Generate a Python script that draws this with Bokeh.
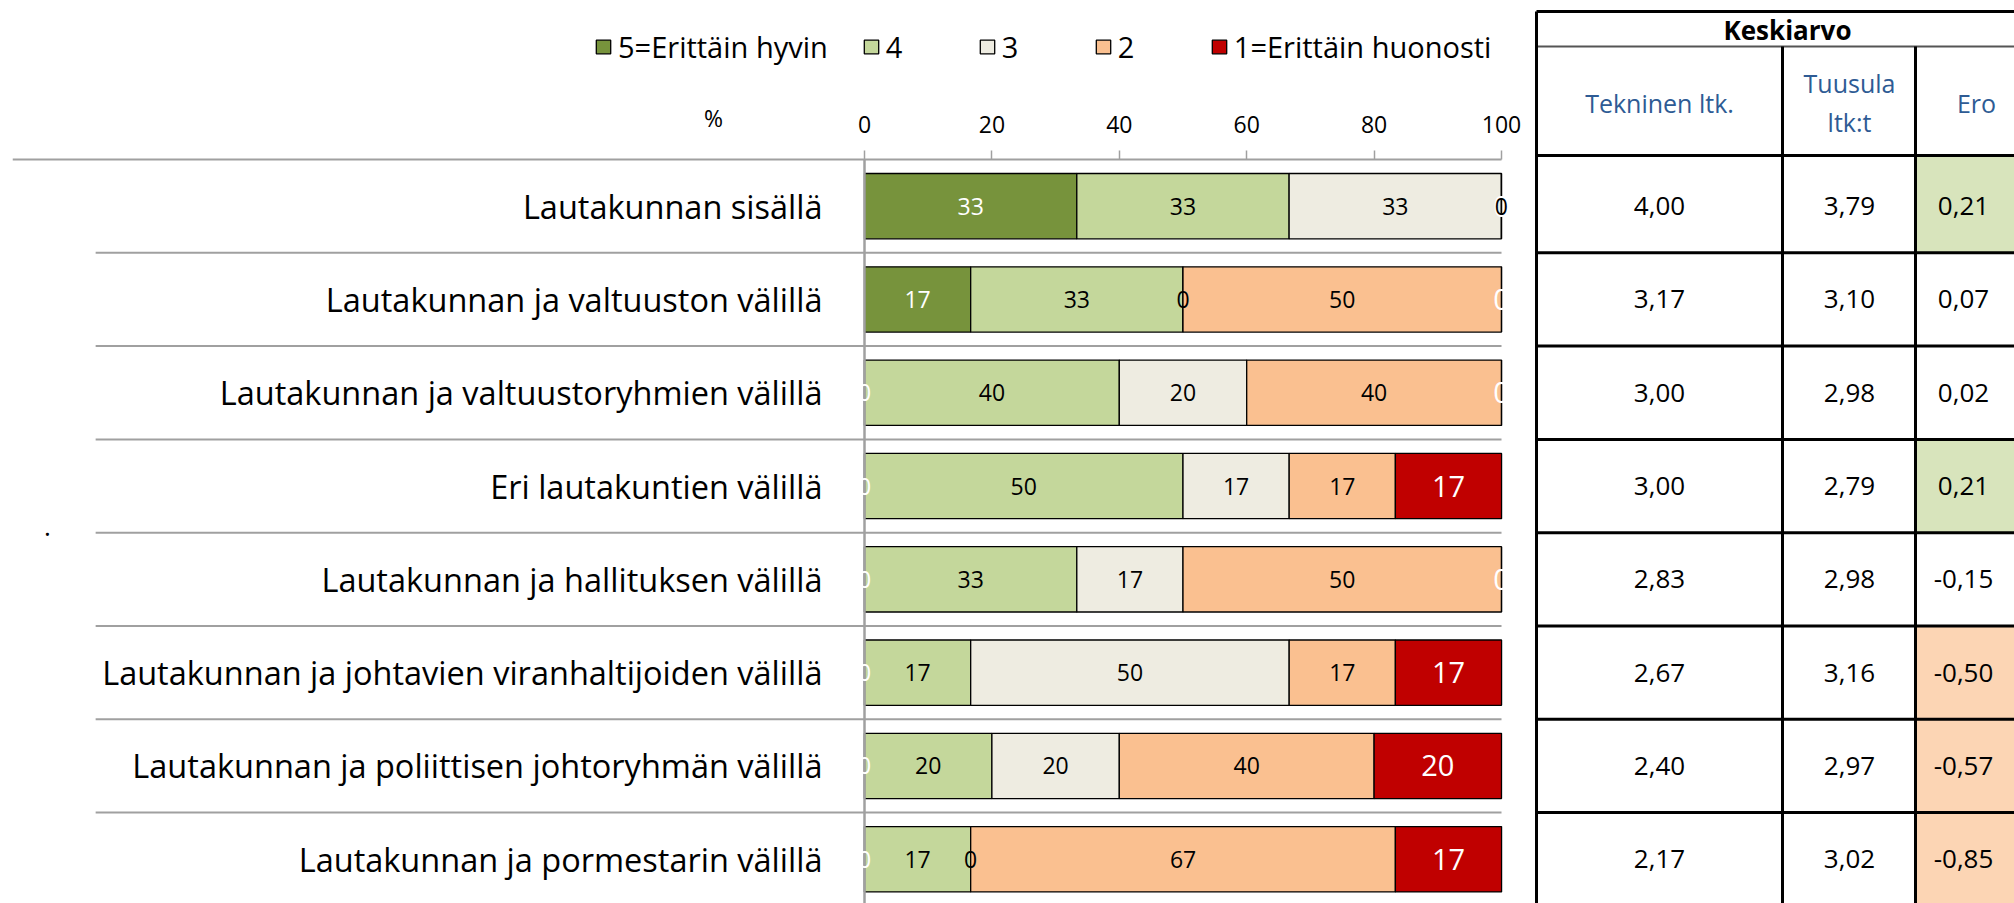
from bokeh.plotting import figure
from bokeh.models import (ColumnDataSource, Range1d, LinearAxis, FixedTicker,
                          Legend, LegendItem, Label)
from bokeh.layouts import row
from bokeh.embed import file_html
from bokeh.resources import INLINE
from bokeh.core.properties import value

# ---------------- data ----------------
categories = [
    "Lautakunnan sisällä",
    "Lautakunnan ja valtuuston välillä",
    "Lautakunnan ja valtuustoryhmien välillä",
    "Eri lautakuntien välillä",
    "Lautakunnan ja hallituksen välillä",
    "Lautakunnan ja johtavien viranhaltijoiden välillä",
    "Lautakunnan ja poliittisen johtoryhmän välillä",
    "Lautakunnan ja pormestarin välillä",
]
series_names = ["5=Erittäin hyvin", "4", "3", "2", "1=Erittäin huonosti"]
s5 = [33.33, 16.67, 0, 0, 0, 0, 0, 0]
s4 = [33.33, 33.33, 40, 50, 33.33, 16.67, 20, 16.67]
s3 = [33.33, 0, 20, 16.67, 16.67, 50, 20, 0]
s2 = [0, 50, 40, 16.67, 50, 16.67, 40, 66.67]
s1 = [0, 0, 0, 16.67, 0, 16.67, 20, 16.67]
ticks = [0, 20, 40, 60, 80, 100]

table_title = "Keskiarvo"
col_headers = ["Tekninen ltk.", "Tuusula", "ltk:t", "Ero"]
tekninen = [4.00, 3.17, 3.00, 3.00, 2.83, 2.67, 2.40, 2.17]
tuusula = [3.79, 3.10, 2.98, 2.79, 2.98, 3.16, 2.97, 3.02]
ero = [0.21, 0.07, 0.02, 0.21, -0.15, -0.50, -0.57, -0.85]

# ---------------- styles / layout ----------------
FONT = "Open Sans"
colors = ["#77933C", "#C4D79B", "#EEECE1", "#FAC090", "#C00000"]
label_colors = ["white", "black", "black", "black", "white"]
label_sizes = ["23px", "23px", "23px", "23px", "29px"]
GRAY = "#A0A0A0"
HEAD_BLUE = "#2E5B94"

H = 903
W_LEFT = 1530          # width of the bar-chart canvas
ROW_PX = 93.3          # pixel height of one category row
TOP_LINE = 159         # pixel y of the top line (axis line)
y_top = -0.5 - TOP_LINE / ROW_PX
y_bottom = -0.5 + (H - TOP_LINE) / ROW_PX
ypos = list(range(len(categories)))

# ---------------- bar chart figure ----------------
PX_PER_PCT = 6.37
FRAME_RIGHT = 1528
p = figure(width=W_LEFT, height=H, output_backend="svg", toolbar_location=None,
           x_range=Range1d(-(864 - 12) / PX_PER_PCT, (FRAME_RIGHT - 864) / PX_PER_PCT),
           y_range=Range1d(y_bottom, y_top),
           x_axis_location=None, y_axis_location=None,
           min_border_left=12, min_border_right=W_LEFT - FRAME_RIGHT, min_border_top=0,
           min_border_bottom=0, outline_line_color=None)
p.grid.visible = False
p.background_fill_color = "white"
p.border_fill_color = "white"

ax = LinearAxis(ticker=FixedTicker(ticks=ticks), fixed_location=-0.5,
                major_tick_out=9, major_tick_in=0,
                minor_tick_out=0, minor_tick_in=0, axis_line_color=None,
                major_tick_line_color=GRAY, major_tick_line_width=1.5,
                major_label_text_font=FONT, major_label_text_font_size="23px",
                major_label_text_color="black", major_label_standoff=18)
p.add_layout(ax, "above")

# top line (axis line) and separators between rows
sep_x0 = [-(864 - 12) / PX_PER_PCT] + [-120.7] * (len(ypos) - 1)
sep_y = [-0.5] + [i + 0.5 for i in ypos[:-1]]
p.segment(x0=sep_x0, x1=[100] * len(sep_y), y0=sep_y, y1=sep_y,
          line_color=GRAY, line_width=2)

src = ColumnDataSource(dict(y=ypos, s5=s5, s4=s4, s3=s3, s2=s2, s1=s1))
stack_keys = ["s5", "s4", "s3", "s2", "s1"]
bars = p.hbar_stack(stack_keys, y="y", height=0.7, color=colors, source=src,
                    line_color="black", line_width=1.3)

# category axis line
p.segment(x0=[0], x1=[0], y0=[-0.5], y1=[y_bottom], line_color=GRAY, line_width=2.5)

# category labels
p.text(x=[0] * len(categories), y=ypos, text=categories, x_offset=-42,
       text_align="right", text_baseline="middle", text_font=value(FONT),
       text_font_size="32.5px", text_color="black")

# value labels
series = [s5, s4, s3, s2, s1]
lab = {k: [] for k in ["x", "y", "t", "c", "s", "white"]}
for j, ser in enumerate(series):
    for i, v in enumerate(ser):
        left = sum(series[k][i] for k in range(j))
        lab["x"].append(left + v / 2)
        lab["y"].append(i)
        lab["t"].append(f"{round(v):d}")
        lab["c"].append(label_colors[j])
        lab["s"].append(label_sizes[j])
        lab["white"].append(label_colors[j] == "white")
for want_white in (True, False):
    idx = [k for k in range(len(lab["x"])) if lab["white"][k] == want_white]
    sub = ColumnDataSource(dict(x=[lab["x"][k] for k in idx], y=[lab["y"][k] for k in idx],
                                t=[lab["t"][k] for k in idx], c=[lab["c"][k] for k in idx],
                                s=[lab["s"][k] for k in idx]))
    p.text(x="x", y="y", text="t", text_color="c", text_font_size="s", source=sub,
           text_align="center", text_baseline="middle", text_font=value(FONT))

legend = Legend(items=[LegendItem(label=n, renderers=[r]) for n, r in zip(series_names, bars)],
                location=(582, H - 66), orientation="horizontal", glyph_width=18, glyph_height=17,
                label_standoff=6, spacing=34, label_width=58, label_height=17, padding=0,
                margin=0, border_line_color=None, background_fill_alpha=0,
                label_text_font=FONT, label_text_font_size="29px", label_text_color="black")
p.add_layout(legend)

p.add_layout(Label(x=713 - 12, y=H - 117, x_units="screen", y_units="screen", text="%",
                   text_font=FONT, text_font_size="23px", text_align="center",
                   text_baseline="middle", text_color="black"))
p.add_layout(Label(x=47 - 12, y=H - 526, x_units="screen", y_units="screen", text=".",
                   text_font=FONT, text_font_size="26px", text_align="center",
                   text_baseline="alphabetic", text_color="black"))

# ---------------- table figure ----------------
T_LEFT, C1, C2, T_RIGHT = 1536, 1782, 1915, 2040
y_tab_top = -0.5 - (TOP_LINE - 11) / ROW_PX
y_kesk = -0.5 - (TOP_LINE - 46) / ROW_PX
y_head = -0.5 - (TOP_LINE - 155) / ROW_PX

t = figure(width=2014 - W_LEFT, height=H, output_backend="svg", toolbar_location=None,
           x_range=Range1d(W_LEFT, 2014), y_range=Range1d(y_bottom, y_top),
           x_axis_location=None, y_axis_location=None,
           min_border_left=0, min_border_right=0, min_border_top=0, min_border_bottom=0,
           outline_line_color=None)
t.grid.visible = False
t.border_fill_color = "white"

# Ero cell fills (conditional formatting)
ero_fill = ["#D8E4BC" if v >= 0.2 else ("#FCD5B4" if v <= -0.2 else None) for v in ero]
tops = [y_head] + [i - 0.5 for i in ypos[1:]]
bots = [i + 0.5 for i in ypos]
fi = [k for k, c in enumerate(ero_fill) if c]
t.quad(left=[C2] * len(fi), right=[T_RIGHT] * len(fi), top=[tops[k] for k in fi],
       bottom=[bots[k] for k in fi], fill_color=[ero_fill[k] for k in fi], line_color=None)

# grid lines
hy = [y_tab_top, y_head] + [i + 0.5 for i in ypos[:-1]]
t.segment(x0=[T_LEFT] * len(hy), x1=[T_RIGHT] * len(hy), y0=hy, y1=hy,
          line_color="black", line_width=3)
t.segment(x0=[T_LEFT], x1=[T_RIGHT], y0=[y_kesk], y1=[y_kesk], line_color="#555555", line_width=2)
t.segment(x0=[T_LEFT], x1=[T_LEFT], y0=[y_tab_top], y1=[y_bottom], line_color="black", line_width=3)
t.segment(x0=[C1, C2], x1=[C1, C2], y0=[y_kesk, y_kesk], y1=[y_bottom, y_bottom],
          line_color="black", line_width=3)

# headers
t.text(x=[1787], y=[-0.5 - (TOP_LINE - 29) / ROW_PX], text=[table_title], text_font=value(FONT),
       text_font_style="bold", text_font_size="26px", text_align="center",
       text_baseline="middle", text_color="black")
t.text(x=[1659, 1849, 1849, 1976],
       y=[-0.5 - (TOP_LINE - 102) / ROW_PX, -0.5 - (TOP_LINE - 82) / ROW_PX,
          -0.5 - (TOP_LINE - 121) / ROW_PX, -0.5 - (TOP_LINE - 102) / ROW_PX],
       text=col_headers, text_font=value(FONT), text_font_size="25px",
       text_align="center", text_baseline="middle", text_color=HEAD_BLUE)

fmt = lambda v: f"{v:.2f}".replace(".", ",")
for cx, vals in ((1659, tekninen), (1849, tuusula), (1963, ero)):
    t.text(x=[cx] * len(ypos), y=ypos, text=[fmt(v) for v in vals], text_font=value(FONT),
           text_font_size="26px", text_align="center", text_baseline="middle",
           text_color="black")

layout = row(p, t)
open("out.html", "w").write(file_html(layout, INLINE))
